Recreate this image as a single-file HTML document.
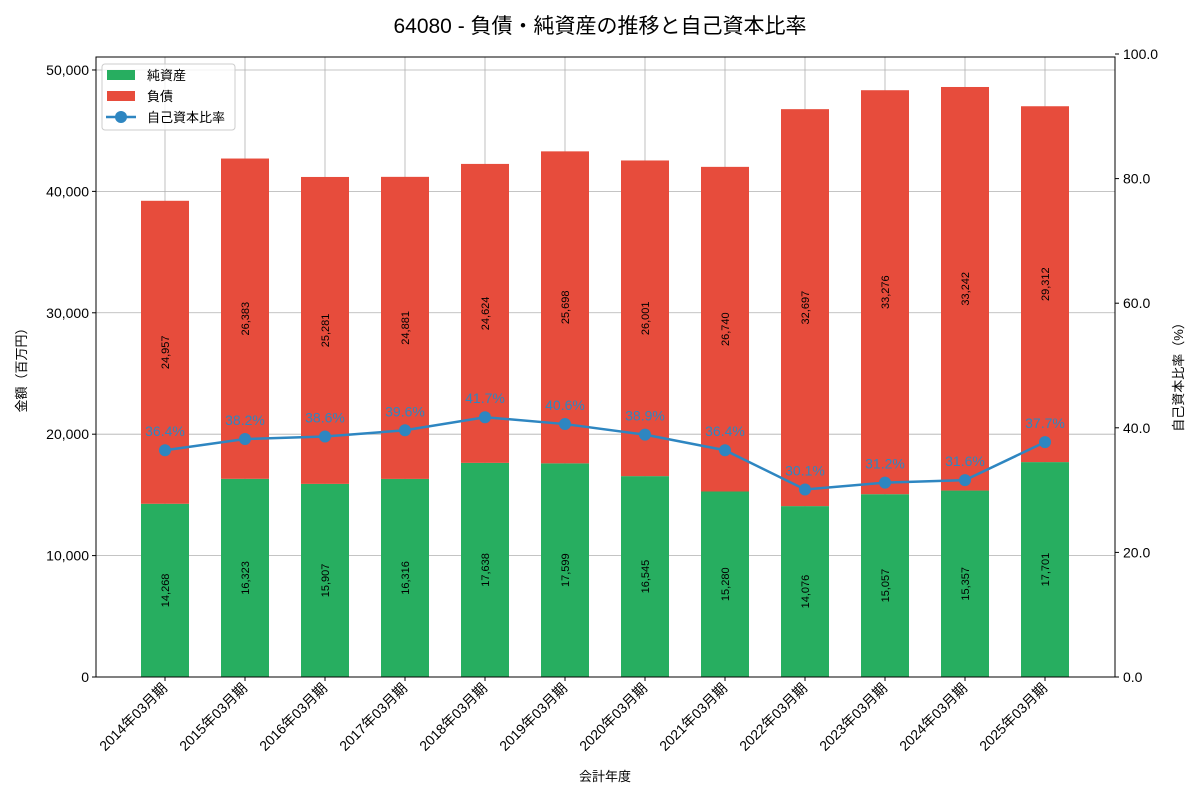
<!DOCTYPE html>
<html><head><meta charset="utf-8"><style>
body{margin:0;background:#fff}
svg text{font-family:"Liberation Sans","Noto Sans CJK JP",sans-serif}
</style></head><body>
<svg width="1200" height="800" xmlns="http://www.w3.org/2000/svg">
<text x="600" y="33" text-anchor="middle" font-size="21" fill="#000">64080 - 負債・純資産の推移と自己資本比率</text>
<g id="grid"></g>
<g id="bars"></g>
<g id="line"></g>
<rect x="96" y="57" width="1019" height="620" fill="none" stroke="#000" stroke-width="1"/>
<g id="axes"></g>
<text x="26" y="367" transform="rotate(-90 26 367)" text-anchor="middle" font-size="13">金額（百万円）</text>
<text x="1183" y="374" transform="rotate(-90 1183 374)" text-anchor="middle" font-size="13">自己資本比率（%）</text>
<text x="605" y="781" text-anchor="middle" font-size="13">会計年度</text>
<g>
<rect x="102" y="64" width="133" height="66" fill="#fff" fill-opacity="0.8" stroke="#ccc" rx="3"/>
<rect x="107" y="70" width="28" height="10" fill="#27ae60"/>
<text x="147" y="80" font-size="13">純資産</text>
<rect x="107" y="91" width="28" height="10" fill="#e74c3c"/>
<text x="147" y="101" font-size="13">負債</text>
<line x1="106" y1="117" x2="136" y2="117" stroke="#2e86c1" stroke-width="2.5"/>
<circle cx="121" cy="117" r="6" fill="#2e86c1"/>
<text x="147" y="122" font-size="13">自己資本比率</text>
</g>
</svg>
<script>
const categories=["2014年03月期","2015年03月期","2016年03月期","2017年03月期","2018年03月期","2019年03月期","2020年03月期","2021年03月期","2022年03月期","2023年03月期","2024年03月期","2025年03月期"];
const equity=[14268,16323,15907,16316,17638,17599,16545,15280,14076,15057,15357,17701];
const liabilities=[24957,26383,25281,24881,24624,25698,26001,26740,32697,33276,33242,29312];
const ratio=[36.4,38.2,38.6,39.6,41.7,40.6,38.9,36.4,30.1,31.2,31.6,37.7];
const leftTicks=[0,10000,20000,30000,40000,50000];
const rightTicks=[0,20,40,60,80,100];
const NS="http://www.w3.org/2000/svg";
const L=96,R=1115,T=57,B=677,ymax=51069;
const x=i=>165+i*80;
const y=v=>B-(v/ymax)*(B-T);
const y2=v=>B-(v/100)*(B-T+3);
function mk(tag,a,p,txt){const e=document.createElementNS(NS,tag);for(const k in a)e.setAttribute(k,a[k]);if(txt!==undefined)e.textContent=txt;p.appendChild(e);return e;}
const grid=document.getElementById('grid'),bars=document.getElementById('bars'),line=document.getElementById('line'),axes=document.getElementById('axes');
leftTicks.forEach(t=>{const g=mk('line',{x1:L,x2:R,y1:y(t),y2:y(t),stroke:'#b0b0b0','stroke-width':0.8},grid);


mk('line',{x1:L-4,x2:L,y1:y(t),y2:y(t),stroke:'#000'},axes);
const tx=mk('text',{x:L-7,y:y(t)+5,'text-anchor':'end','font-size':14},axes,t.toLocaleString('en-US'));

});
rightTicks.forEach(t=>{mk('line',{x1:R,x2:R+4,y1:y2(t),y2:y2(t),stroke:'#000'},axes);
const tx=mk('text',{x:R+8,y:y2(t)+5,'font-size':14},axes,t.toFixed(1));

});
categories.forEach((c,i)=>{const cx=x(i);
const g=mk('line',{x1:cx,x2:cx,y1:T,y2:B,stroke:'#b0b0b0','stroke-width':0.8},grid);


const e=mk('rect',{x:cx-24,width:48,y:y(equity[i]),height:B-y(equity[i]),fill:'#27ae60'},bars);


const tot=equity[i]+liabilities[i];
const l=mk('rect',{x:cx-24,width:48,y:y(tot),height:y(equity[i])-y(tot),fill:'#e74c3c'},bars);


const ey=(y(0)+y(equity[i]))/2, ly=(y(equity[i])+y(tot))/2;
const t1=mk('text',{x:cx+4,y:ey,transform:`rotate(-90 ${cx+4} ${ey})`,'text-anchor':'middle','font-size':11},bars,equity[i].toLocaleString('en-US'));


const t2=mk('text',{x:cx+4,y:ly,transform:`rotate(-90 ${cx+4} ${ly})`,'text-anchor':'middle','font-size':11},bars,liabilities[i].toLocaleString('en-US'));


mk('line',{x1:cx,x2:cx,y1:B,y2:B+4,stroke:'#000'},axes);
const xl=mk('text',{x:cx+3,y:B+12,transform:`rotate(-45 ${cx+3} ${B+12})`,'text-anchor':'end','font-size':14},axes,c);

});
const pl=mk('polyline',{points:ratio.map((r,i)=>x(i)+','+y2(r)).join(' '),fill:'none',stroke:'#2e86c1','stroke-width':2.5},line);


ratio.forEach((r,i)=>{const c=mk('circle',{cx:x(i),cy:y2(r),r:6,fill:'#2e86c1'},line);


const t=mk('text',{x:x(i),y:y2(r)-14,'text-anchor':'middle','font-size':14,fill:'#2e86c1'},line,r.toFixed(1)+'%');

});
</script>
</body></html>
